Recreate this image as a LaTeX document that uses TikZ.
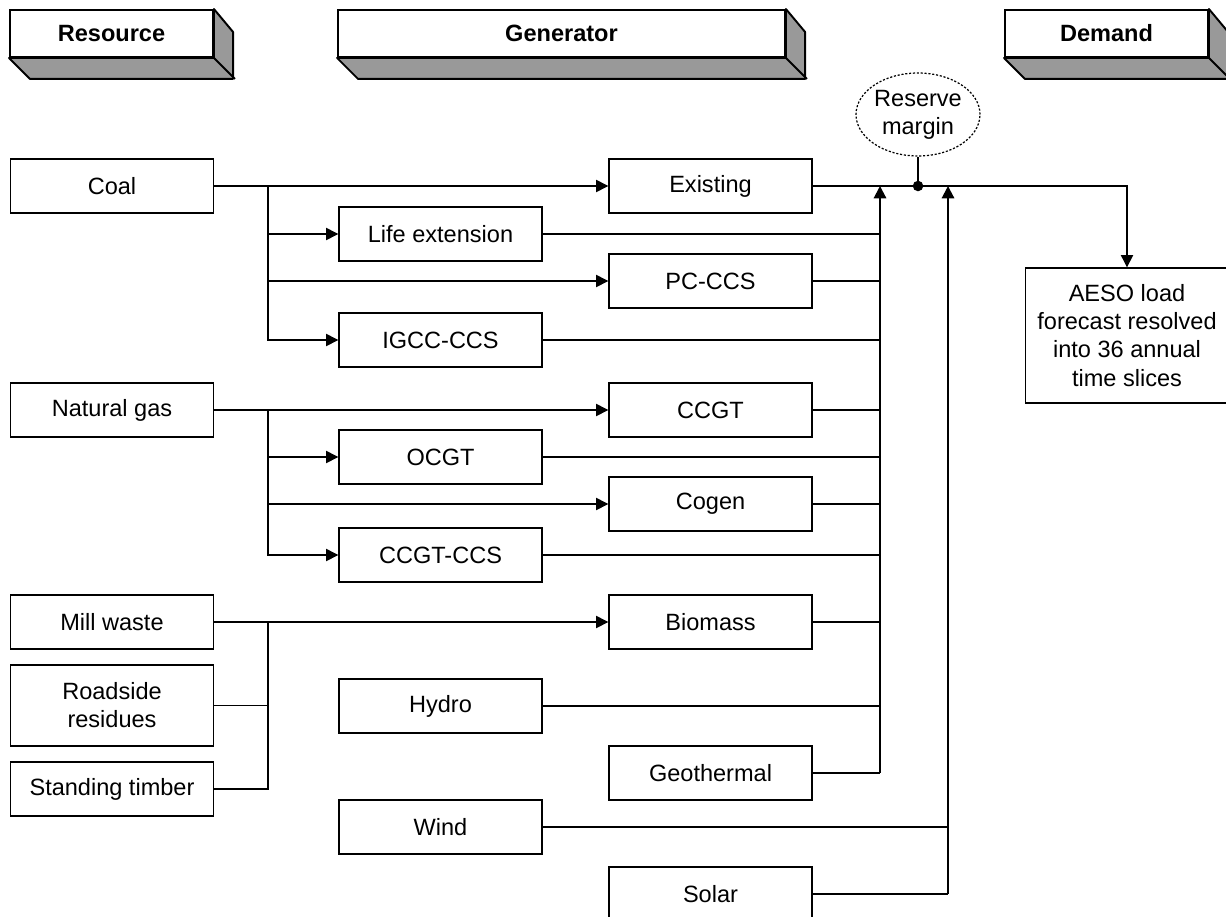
\documentclass[tikz,border=0pt]{standalone}
\usepackage{fontspec}
\setmainfont{Liberation Sans}
\usetikzlibrary{arrows.meta,shapes.geometric}
\definecolor{sidegray}{RGB}{153,153,153}

\begin{document}
\begin{tikzpicture}[x=0.02cm,y=-0.02cm,
	font=\fontsize{13.4}{16}\selectfont,
	box/.style={draw,line width=0.8pt,minimum width=4.06cm,minimum height=1.08cm,inner sep=0pt,align=center},
	head/.style={draw,line width=1.1pt,fill=white,minimum height=0.94cm,inner sep=0pt,font=\fontsize{13.4}{16}\selectfont\bfseries},
	link/.style={line width=0.7pt},
	feed/.style={line width=0.7pt,-{Triangle[length=7pt,width=7pt]}},
	bus/.style={line width=1.2pt,-{Triangle[length=7pt,width=7pt]}}]

	\useasboundingbox (0,0) rectangle (1226,916);

	% headers
	\node [head,minimum width=4.06cm] (resource) at (111.5,33.5) {Resource};
	\filldraw [fill=sidegray,line width=1.1pt,line join=round] (resource.south west) -- ++(21,21) -- ++(203,0) -- ++(0,-47) -- (resource.north east) -- (resource.south east) -- cycle;
	\draw [line width=1.1pt] (resource.south east) -- ++(21,21);

	\node [head,minimum width=8.94cm] (generator) at (561.5,33.5) {Generator};
	\filldraw [fill=sidegray,line width=1.1pt,line join=round] (generator.south west) -- ++(21,21) -- ++(447,0) -- ++(0,-47) -- (generator.north east) -- (generator.south east) -- cycle;
	\draw [line width=1.1pt] (generator.south east) -- ++(21,21);

	\node [head,minimum width=4.06cm] (demand) at (1106.5,33.5) {Demand};
	\filldraw [fill=sidegray,line width=1.1pt,line join=round] (demand.south west) -- ++(21,21) -- ++(203,0) -- ++(0,-47) -- (demand.north east) -- (demand.south east) -- cycle;
	\draw [line width=1.1pt] (demand.south east) -- ++(21,21);

	% resources
	\node [box] (coal) at (112,186) {Coal};
	\node [box] (gas) at (112,410) {Natural gas};
	\node [box] (mill) at (112,622) {Mill waste};
	\node [box,minimum height=1.62cm] (road) at (112,705.5) {Roadside\\residues};
	\node [box] (timber) at (112,789) {Standing timber};

	% generators
	\node [box] (exist) at (710.5,186) {Existing};
	\node [box] (life) at (440.5,234) {Life extension};
	\node [box] (pcccs) at (710.5,281) {PC-CCS};
	\node [box] (igcc) at (440.5,340) {IGCC-CCS};
	\node [box] (ccgt) at (710.5,410) {CCGT};
	\node [box] (ocgt) at (440.5,457) {OCGT};
	\node [box] (cogen) at (710.5,504) {Cogen};
	\node [box] (ccgtccs) at (440.5,555) {CCGT-CCS};
	\node [box] (biomass) at (710.5,622) {Biomass};
	\node [box] (hydro) at (440.5,706) {Hydro};
	\node [box] (geo) at (710.5,773) {Geothermal};
	\node [box] (wind) at (440.5,827) {Wind};
	\node [box] (solar) at (710.5,894) {Solar};

	% demand
	\node [box,minimum height=2.7cm] (aeso) at (1127,335.5) {AESO load\\forecast resolved\\into 36 annual\\time slices};
	\node [draw,ellipse,dash pattern=on 1.2pt off 1pt,line width=0.7pt,minimum width=2.4cm,minimum height=1.66cm,inner sep=0pt,align=center] (reserve) at (918,114.5) {Reserve\\margin};

	% coal links
	\coordinate (cj) at (268,186);
	\draw [feed] (coal.east) -- (exist.west);
	\draw [feed] (cj) |- (life.west);
	\draw [feed] (cj) |- (pcccs.west);
	\draw [feed] (cj) |- (igcc.west);

	% gas links
	\coordinate (gj) at (268,410);
	\draw [feed] (gas.east) -- (ccgt.west);
	\draw [feed] (gj) |- (ocgt.west);
	\draw [feed] (gj) |- (cogen.west);
	\draw [feed] (gj) |- (ccgtccs.west);

	% biomass links
	\coordinate (bj) at (268,622);
	\draw [feed] (mill.east) -- (biomass.west);
	\draw [link] (road.east) -| (bj);
	\draw [link] (timber.east) -| (bj);

	% buses
	\coordinate (busa) at (880,186);
	\coordinate (busb) at (948,186);
	\draw [link] (life.east) -- (life.east -| busa);
	\draw [link] (pcccs.east) -- (pcccs.east -| busa);
	\draw [link] (igcc.east) -- (igcc.east -| busa);
	\draw [link] (ccgt.east) -- (ccgt.east -| busa);
	\draw [link] (ocgt.east) -- (ocgt.east -| busa);
	\draw [link] (cogen.east) -- (cogen.east -| busa);
	\draw [link] (ccgtccs.east) -- (ccgtccs.east -| busa);
	\draw [link] (biomass.east) -- (biomass.east -| busa);
	\draw [link] (hydro.east) -- (hydro.east -| busa);
	\draw [link] (geo.east) -- (geo.east -| busa);
	\draw [bus] (geo.east -| busa) -- (busa);
	\draw [link] (wind.east) -- (wind.east -| busb);
	\draw [link] (solar.east) -- (solar.east -| busb);
	\draw [bus] (solar.east -| busb) -- (busb);

	% load
	\coordinate (dot) at (918,186);
	\draw [feed] (exist.east) -| (aeso.north);
	\draw [link] (reserve.south) -- (dot);
	\fill (dot) circle [radius=3pt];

\end{tikzpicture}
\end{document}
